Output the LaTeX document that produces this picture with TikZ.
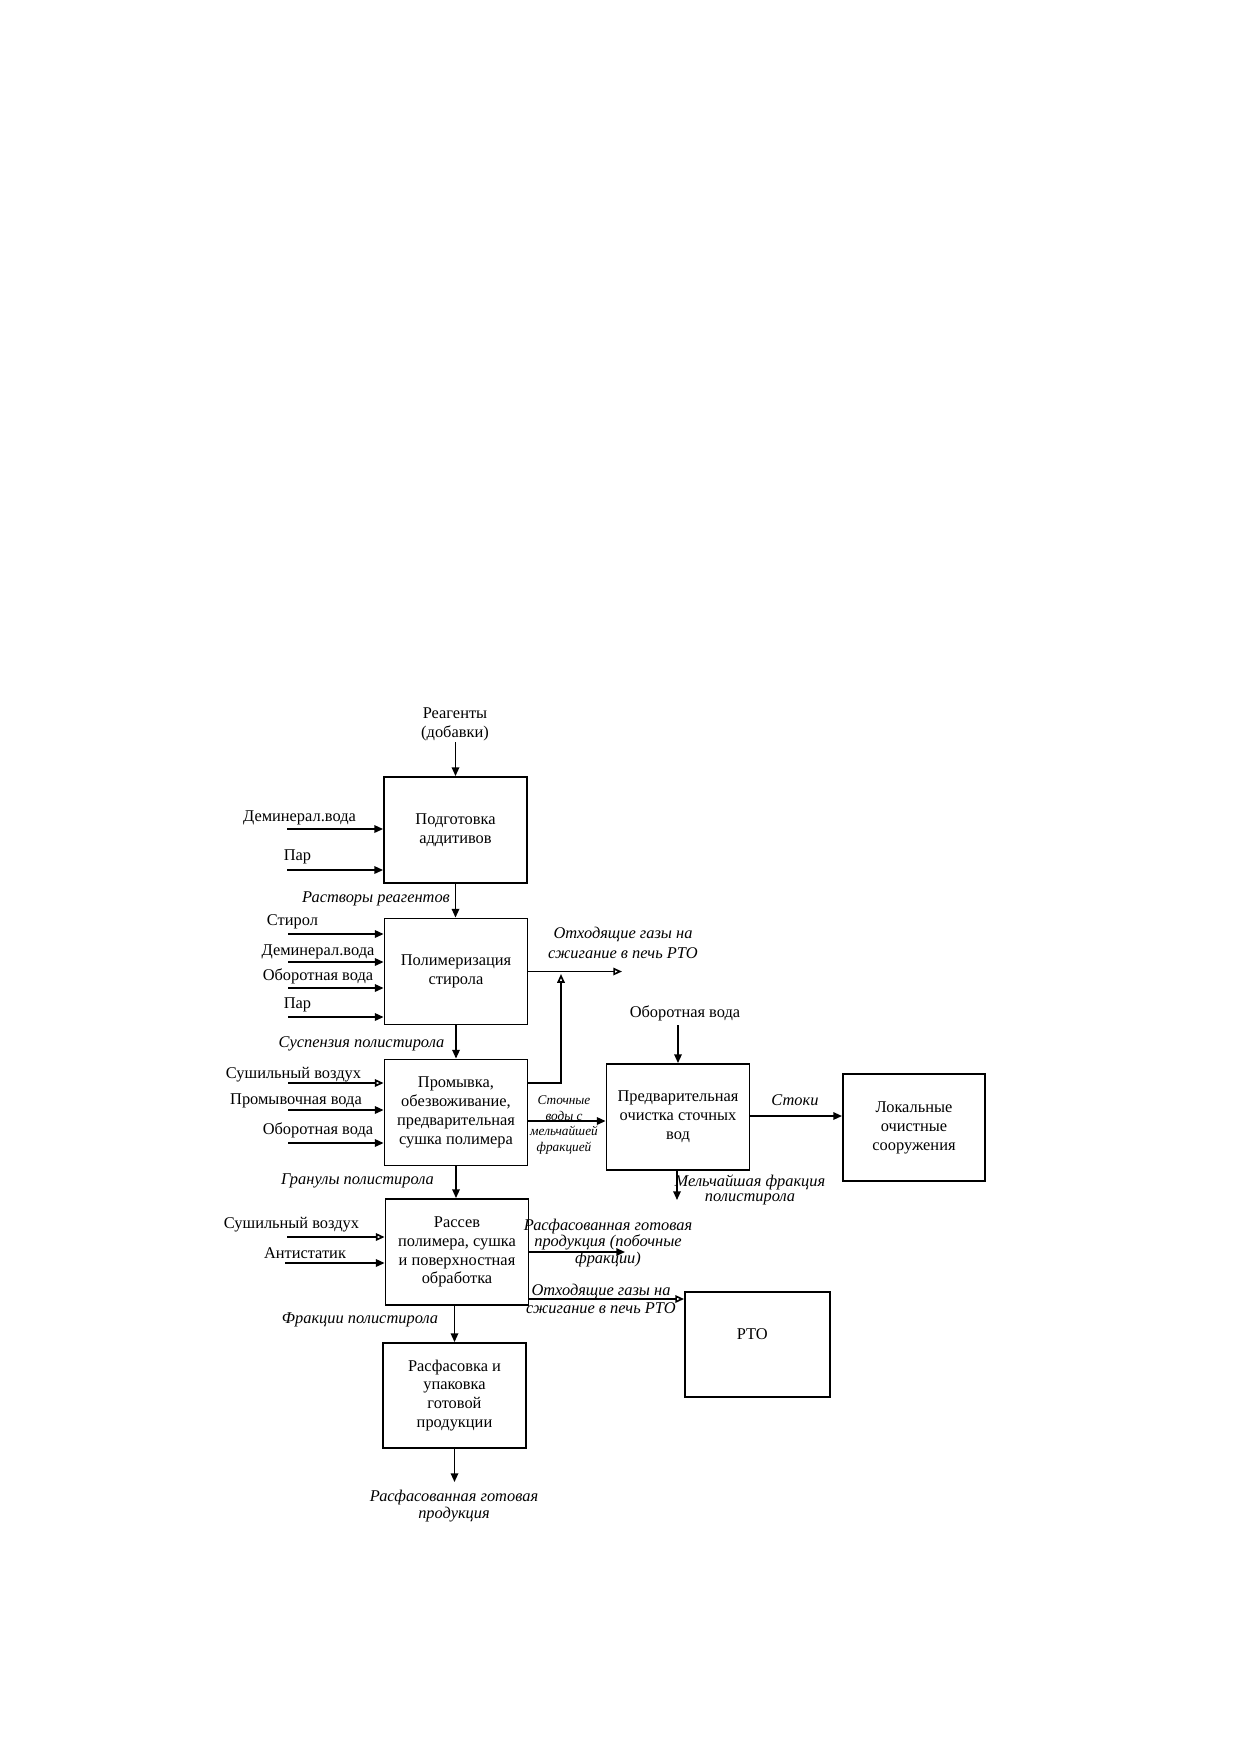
\documentclass[tikz,border=0pt]{standalone}
\usepackage{fontspec}
\setmainfont{Liberation Serif}
\usetikzlibrary{arrows.meta,calc}
\newcommand\fbx{\fontsize{7.9}{9.1}\selectfont}
\newcommand\flab{\fontsize{7.9}{9.1}\selectfont}
\newcommand\fital{\fontsize{7.9}{8.6}\selectfont\itshape}
\newcommand\fsml{\fontsize{6.4}{7.5}\selectfont\itshape}
\begin{document}
\begin{tikzpicture}[x=0.48bp,y=-0.48bp,
  box/.style={draw,line width=0.9bp,minimum width=68.6bp,minimum height=50.9bp,align=center,inner sep=1bp,font=\fbx},
  arr/.style={line width=0.8bp,-{Triangle[length=4.2bp,width=3.6bp]}},
  oarr/.style={line width=0.8bp,-{Triangle[open,length=4.2bp,width=3.6bp]}},
  lab/.style={font=\flab,inner sep=0.5bp,align=center},
  ilab/.style={font=\fital,inner sep=0.5bp,align=center},
  slab/.style={font=\fsml,inner sep=0.5bp,align=center}]
\useasboundingbox[fill=white] (0,0) rectangle (1240,1754);

% boxes
\node[box] (b1) at (455.5,830) {Подготовка\\аддитивов};
\node[box] (b2) at (456,971.5) {Полимеризация\\стирола};
\node[box] (b3) at (456,1112.5) {Промывка,\\обезвоживание,\\предварительная\\сушка полимера};
\node[box] (b4) at (678,1117) {Предварительная\\очистка сточных\\вод};
\node[box,minimum width=68.2bp,minimum height=51.4bp] (b5) at (914,1127.5) {Локальные\\очистные\\сооружения};
\node[box] (b6) at (457,1252) {Рассев\\полимера, сушка\\и поверхностная\\обработка};
\node[box,minimum width=69.6bp,minimum height=50.4bp] (rto) at (757.5,1344.5) {\raisebox{10bp}{РТО}\hspace*{5bp}};
\node[box,minimum width=68.6bp,minimum height=50.4bp] (b7) at (454.5,1395.5) {Расфасовка и\\упаковка\\готовой\\продукции};

% top input
\node[lab] (reag) at (455,724) {Реагенты\\(добавки)};
\draw[arr] (b1.north |- 0,742) -- (b1.north);

% box 1 inputs
\node[lab] (l11) at (299.5,818) {Деминерал.вода};
\node[lab] (l12) at (297.5,857) {Пар};
\coordinate (i11) at (287,829);
\coordinate (i12) at (287,870);
\draw[arr] (i11) -- (i11 -| b1.west);
\draw[arr] (i12) -- (i12 -| b1.west);

% b1 -> b2
\node[ilab] (r1) at (376,899) {Растворы реагентов};
\draw[arr] (b1.south) -- (b1.south |- b2.north);

% box 2 inputs
\node[lab] (l21) at (292.5,922) {Стирол};
\node[lab] (l22) at (318,952) {Деминерал.вода};
\node[lab] (l23) at (318,976) {Оборотная вода};
\node[lab] (l24) at (297.5,1005) {Пар};
\coordinate (i21) at (288,934);
\coordinate (i22) at (288,962);
\coordinate (i23) at (288,988);
\coordinate (i24) at (288,1017);
\draw[arr] (i21) -- (i21 -| b2.west);
\draw[arr] (i22) -- (i22 -| b2.west);
\draw[arr] (i23) -- (i23 -| b2.west);
\draw[arr] (i24) -- (i24 -| b2.west);

% b2 off-gas
\node[ilab] (g1l) at (623,943) {Отходящие газы на\\[1.2bp]сжигание в печь РТО};
\coordinate (g1) at (622,971.5);
\draw[oarr] (b2.east) -- (g1);

% b2 -> b3
\node[ilab] (r2) at (361.5,1044) {Суспензия полистирола};
\draw[arr] (b2.south) -- (b2.south |- b3.north);

% box 3 inputs
\node[lab] (l31) at (293.5,1075) {Сушильный воздух};
\node[lab] (l32) at (296,1101) {Промывочная вода};
\node[lab] (l33) at (318,1130) {Оборотная вода};
\coordinate (i31) at (288,1083);
\coordinate (i32) at (288,1110);
\coordinate (i33) at (288,1143);
\draw[oarr] (i31) -- (i31 -| b3.west);
\draw[arr] (i32) -- (i32 -| b3.west);
\draw[arr] (i33) -- (i33 -| b3.west);

% b3 gas up to b2 off-gas line
\coordinate (j1) at (561,974);
\draw[oarr] (b3.east |- 0,1083) -| (j1);

% b3 -> b4
\node[slab] (sw) at (564,1125) {Сточные\\воды с\\мельчайшей\\фракцией};
\draw[arr] (b3.east |- 0,1121) -- (b4.west |- 0,1121);

% b4 top input
\node[lab] (ob4) at (685,1013) {Оборотная вода};
\draw[arr] (b4.north |- 0,1025) -- (b4.north);

% b4 -> b5
\node[ilab] (st) at (795,1100) {Стоки};
\draw[arr] (b4.east |- 0,1116) -- (b5.west |- 0,1116);

% b4 down
\node[ilab] (mf) at (750,1190) {Мельчайшая фракция\\[-1.5bp]полистирола};
\coordinate (m1) at (677,1200);
\draw[arr] (b4.south -| m1) -- (m1);

% b3 -> b6
\node[ilab] (r3) at (357.5,1181) {Гранулы полистирола};
\draw[arr] (b3.south) -- (b3.south |- b6.north);

% box 6 inputs
\node[lab] (l61) at (291.5,1225) {Сушильный воздух};
\node[lab] (l62) at (305,1253) {Антистатик};
\coordinate (i61) at (287,1237);
\coordinate (i62) at (285,1263);
\draw[oarr] (i61) -- (i61 -| b6.west);
\draw[arr] (i62) -- (i62 -| b6.west);

% b6 outputs
\node[ilab] (bp) at (608,1243) {Расфасованная готовая\\[-0.5bp]продукция (побочные\\[-0.5bp]фракции)};
\coordinate (p1) at (625,1252);
\draw[arr] (b6.east |- p1) -- (p1);
\node[ilab] (g2l) at (601,1299) {Отходящие газы на\\[-0.3bp]сжигание в печь РТО};
\draw[oarr] (b6.east |- 0,1299) -- (rto.west |- 0,1299);

% b6 -> b7
\node[ilab] (r4) at (360,1320) {Фракции полистирола};
\draw[arr] (b6.south -| b7.north) -- (b7.north);

% b7 output
\node[ilab] (fin) at (454,1506) {Расфасованная готовая\\[-0.3bp]продукция};
\draw[arr] (b7.south) -- (b7.south |- 0,1482);
\end{tikzpicture}
\end{document}
